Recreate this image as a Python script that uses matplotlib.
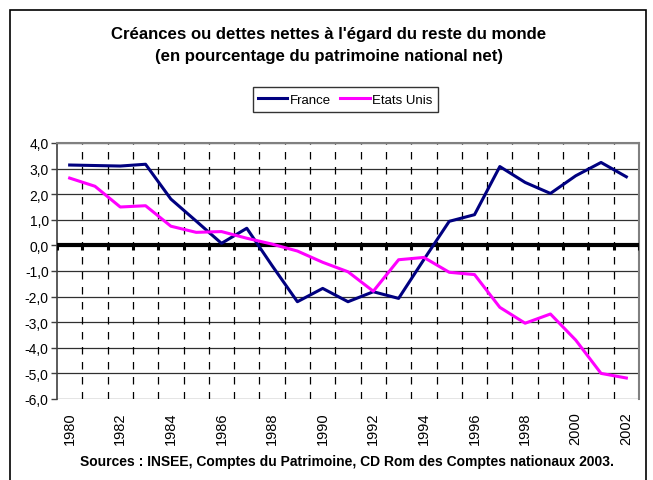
import matplotlib
matplotlib.use("Agg")
import matplotlib.pyplot as plt
from matplotlib.patches import Rectangle
from matplotlib.ticker import FuncFormatter

plt.rcParams['font.family'] = ['Liberation Sans', 'DejaVu Sans']

years = list(range(1980, 2003))
france = [3.14, 3.12, 3.10, 3.17, 1.81, 0.95, 0.08, 0.67, -0.79, -2.20, -1.68, -2.20,
          -1.81, -2.07, -0.55, 0.94, 1.20, 3.08, 2.46, 2.03, 2.72, 3.24, 2.68]
etats_unis = [2.63, 2.31, 1.50, 1.55, 0.75, 0.51, 0.54, 0.28, 0.05, -0.22, -0.66, -1.03,
              -1.79, -0.56, -0.47, -1.05, -1.14, -2.42, -3.04, -2.68, -3.70, -5.00, -5.18]
yticks = [4, 3, 2, 1, 0, -1, -2, -3, -4, -5, -6]

W, H = 653, 481
fig = plt.figure(figsize=(W / 100, H / 100), dpi=100)

# outer frame
fig.patches.append(Rectangle((10 / W, -0.05), (646 - 10) / W, (H - 11) / H + 0.05,
                             transform=fig.transFigure, fill=False, edgecolor='black',
                             linewidth=1.2, zorder=0))

L, R, T, B = 57, 639, 144, 400
ax = fig.add_axes([L / W, (H - B) / H, (R - L) / W, (B - T) / H])

n = len(years)
x = list(range(n))
ax.set_xlim(-0.5, n - 0.5)
ax.set_ylim(-6, 4)

# horizontal gridlines
for v in yticks:
    if v != 0:
        ax.axhline(v, color='#303030', linewidth=0.9, zorder=1)
# vertical dashed gridlines at category boundaries
for k in range(n - 1):
    ax.axvline(k + 0.5, color='black', linewidth=0.9, linestyle=(0, (6, 6)), zorder=1)

# zero axis with ticks
ax.axhline(0, color='black', linewidth=3, zorder=3)
bounds = [k - 0.5 for k in range(n + 1)]
ax.vlines(bounds, -0.18, 0, color='black', linewidth=2.2, zorder=3)

ax.plot(x, france, color='#000080', linewidth=2.2, label='France', zorder=4)
ax.plot(x, etats_unis, color='#FF00FF', linewidth=2.2, label='Etats Unis', zorder=4)

ax.set_yticks(yticks)
ax.yaxis.set_major_formatter(FuncFormatter(lambda v, p: f"{v:.1f}".replace('.', ',')))
ax.tick_params(axis='y', length=4, width=1, labelsize=10, pad=2, color='#404040')

ax.set_xticks(x[::2])
ax.set_xticklabels([str(y) for y in years[::2]], rotation=90, fontsize=10.5)
ax.tick_params(axis='x', length=0, pad=9)

for s in ['top', 'right']:
    ax.spines[s].set_color('#808080')
    ax.spines[s].set_linewidth(1.5)
ax.spines['left'].set_color('#404040')
ax.spines['left'].set_linewidth(1.2)
ax.spines['bottom'].set_visible(False)

fig.text(329 / W, 1 - 35 / H, "Créances ou dettes nettes à l'égard du reste du monde",
         ha='center', va='center', fontsize=12.1, fontweight='bold')
fig.text(329 / W, 1 - 57 / H, "(en pourcentage du patrimoine national net)",
         ha='center', va='center', fontsize=12.1, fontweight='bold')

leg = fig.legend(loc='center', bbox_to_anchor=(345.5 / W, 1 - 100.5 / H), ncol=2,
                 fontsize=9.5, frameon=True, fancybox=False, handlelength=2.2,
                 handletextpad=0.2, columnspacing=0.7, borderpad=0.45, borderaxespad=0)
leg.get_frame().set_edgecolor('black')
leg.get_frame().set_linewidth(1)

fig.text(347 / W, 1 - 462 / H,
         "Sources : INSEE, Comptes du Patrimoine, CD Rom des Comptes nationaux 2003.",
         ha='center', va='center', fontsize=10, fontweight='bold')

fig.savefig('out.png', dpi=100)
